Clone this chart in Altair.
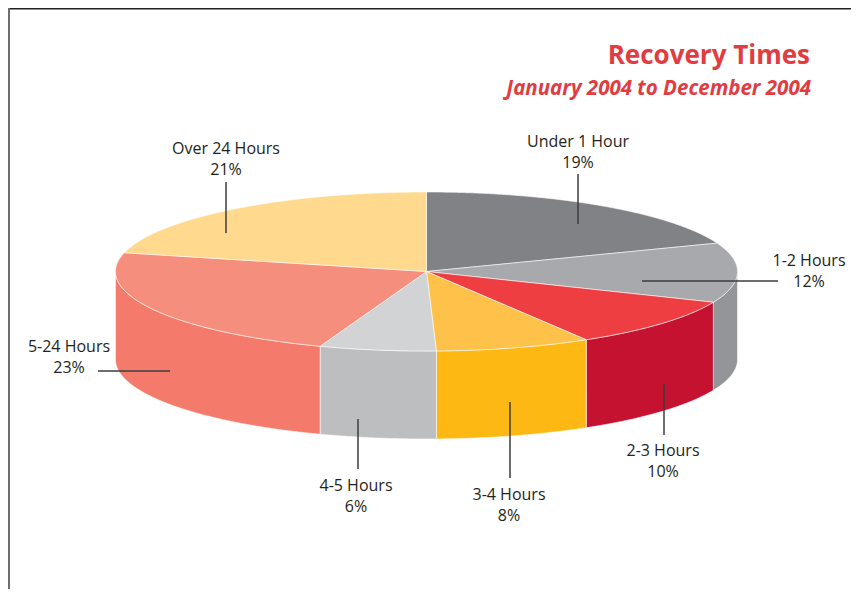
import math
import altair as alt
import pandas as pd

# ---------------- data ----------------
categories = ["Under 1 Hour", "1-2 Hours", "2-3 Hours", "3-4 Hours",
              "4-5 Hours", "5-24 Hours", "Over 24 Hours"]
percents = [19, 12, 10, 8, 6, 23, 21]

# ---------------- styles ----------------
top_colors = ["#808285", "#a7a9ac", "#ef3e42", "#fec24a",
              "#d1d3d4", "#f58e7d", "#fed98e"]
side_colors = ["#6d6e71", "#939598", "#c41230", "#fdb813",
               "#bcbec0", "#f47b6b", "#f9c86e"]
TITLE_RED = "#e03c41"
TEXT_COL = "#231f20"
FONT = "Open Sans"

# ---------------- layout (chart pixels; page adds an 8px margin) ----------------
W, H = 843, 581
CX, CY, RX, RY, DEPTH = 418.5, 263.5, 311.0, 79.5, 88.0
STEP = math.radians(0.5)
LINE_GAP = 21
# per label: text centre x, first baseline y, leader x1, y1, x2, y2
label_layout = [
    (570, 139, 570, 166, 570, 216),
    (801, 258, 634, 273, 770, 273),
    (655, 448, 656, 376, 656, 427),
    (501, 492, 502, 394, 502, 470),
    (348, 483, 350, 411, 350, 461),
    (61, 344, 90, 363, 162, 363),
    (218, 146, 218, 174, 218, 225),
]

# ---------------- pie geometry from the data ----------------
total = float(sum(percents))
bounds = [0.0]
for p in percents:
    bounds.append(bounds[-1] + p / total * 2 * math.pi)


def rim(a, drop=0.0):
    return CX + RX * math.sin(a), CY - RY * math.cos(a) + drop


def arc_angles(a0, a1):
    n = max(2, int(math.ceil((a1 - a0) / STEP)) + 1)
    return [a0 + (a1 - a0) * k / (n - 1) for k in range(n)]


top_rows, side_rows = [], []
for i, cat in enumerate(categories):
    a0, a1 = bounds[i], bounds[i + 1]
    pts = [(CX, CY)] + [rim(a) for a in arc_angles(a0, a1)] + [(CX, CY)]
    for k, (x, y) in enumerate(pts):
        top_rows.append({"slice": cat, "k": k, "x": x, "y": y, "fill": top_colors[i]})
    s, e = max(a0, math.pi / 2), min(a1, 3 * math.pi / 2)
    if e > s:
        angs = arc_angles(s, e)
        spts = [rim(a) for a in angs] + [rim(a, DEPTH) for a in reversed(angs)]
        spts.append(spts[0])
        for k, (x, y) in enumerate(spts):
            side_rows.append({"slice": cat, "k": k, "x": x, "y": y, "fill": side_colors[i]})

top_df = pd.DataFrame(top_rows)
side_df = pd.DataFrame(side_rows)

lab_df = pd.DataFrame({
    "cat": categories,
    "pct": [f"{p}%" for p in percents],
    "tx": [l[0] for l in label_layout],
    "ty": [l[1] for l in label_layout],
    "ty2": [l[1] + LINE_GAP for l in label_layout],
    "x1": [l[2] for l in label_layout],
    "y1": [l[3] for l in label_layout],
    "x2": [l[4] for l in label_layout],
    "y2": [l[5] for l in label_layout],
})

xs = alt.Scale(domain=[0, W], nice=False, zero=False)
ys = alt.Scale(domain=[0, H], nice=False, zero=False, reverse=True)
noax = None


def poly_layer(df):
    return alt.Chart(df).mark_line(
        filled=True, stroke="white", strokeWidth=0.7, strokeOpacity=0.8
    ).encode(
        x=alt.X("x:Q", scale=xs, axis=noax),
        y=alt.Y("y:Q", scale=ys, axis=noax),
        detail="slice:N",
        order="k:Q",
        fill=alt.Fill("fill:N", scale=None),
    )


sides = poly_layer(side_df)
tops = poly_layer(top_df)

leaders = alt.Chart(lab_df).mark_rule(color="#3c3c3c", strokeWidth=1.5).encode(
    x=alt.X("x1:Q", scale=xs, axis=noax), y=alt.Y("y1:Q", scale=ys, axis=noax),
    x2="x2:Q", y2="y2:Q",
)

name_text = alt.Chart(lab_df).mark_text(
    font=FONT, fontSize=16, color=TEXT_COL, align="center", baseline="alphabetic"
).encode(
    x=alt.X("tx:Q", scale=xs, axis=noax), y=alt.Y("ty:Q", scale=ys, axis=noax), text="cat:N"
)
pct_text = alt.Chart(lab_df).mark_text(
    font=FONT, fontSize=16, color=TEXT_COL, align="center", baseline="alphabetic"
).encode(
    x=alt.X("tx:Q", scale=xs, axis=noax), y=alt.Y("ty2:Q", scale=ys, axis=noax), text="pct:N"
)

title_df = pd.DataFrame({"t": ["Recovery Times"]})
sub_df = pd.DataFrame({"t": ["January 2004 to December 2004"]})
title = alt.Chart(title_df).mark_text(
    font=FONT, fontSize=26, fontWeight="bold", color=TITLE_RED, align="right",
    baseline="alphabetic"
).encode(x=alt.value(802), y=alt.value(56), text="t:N")
subtitle = alt.Chart(sub_df).mark_text(
    font=FONT, fontSize=20.5, fontWeight="bold", fontStyle="italic", color=TITLE_RED,
    align="right", baseline="alphabetic"
).encode(x=alt.value(803), y=alt.value(87), text="t:N")

frame_top = alt.Chart(title_df).mark_rule(color="#231f20", strokeWidth=1.6).encode(
    x=alt.value(0), x2=alt.value(W), y=alt.value(0.8)
)
frame_left = alt.Chart(title_df).mark_rule(color="#6d6e71", strokeWidth=2).encode(
    x=alt.value(1), y=alt.value(0), y2=alt.value(H)
)

chart = alt.layer(
    sides, tops, leaders, name_text, pct_text, title, subtitle, frame_top, frame_left
).properties(
    width=W, height=H, padding=0, autosize=alt.AutoSizeParams(type="none")
).configure_view(stroke=None).configure(background="white")

chart.save("out.html", embed_options={"renderer": "svg", "actions": False})
